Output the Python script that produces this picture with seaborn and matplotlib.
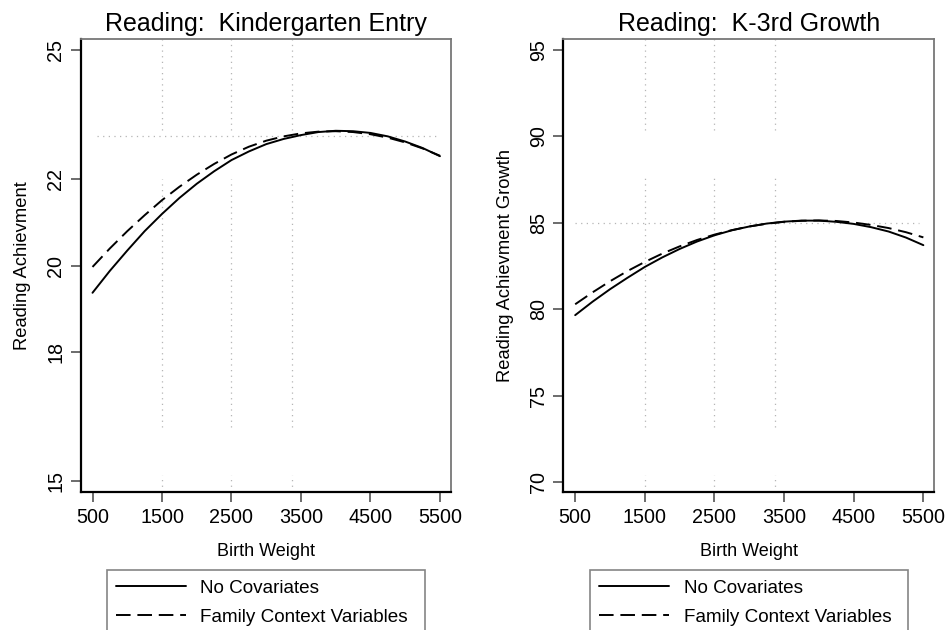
import pandas as pd
import seaborn as sns
import matplotlib.pyplot as plt
from matplotlib.lines import Line2D

# birth weight grid and values
birth_weight = [500, 750, 1000, 1250, 1500, 1750, 2000, 2250, 2500, 2750, 3000,
                3250, 3500, 3750, 4000, 4250, 4500, 4750, 5000, 5250, 5500]

k_entry_none = [19.37, 19.88, 20.35, 20.80, 21.20, 21.57, 21.90, 22.19, 22.45, 22.65, 22.82,
                22.94, 23.03, 23.10, 23.13, 23.12, 23.08, 23.00, 22.88, 22.73, 22.54]
k_entry_family = [19.97, 20.40, 20.80, 21.17, 21.52, 21.83, 22.11, 22.36, 22.58, 22.76, 22.90,
                  23.00, 23.07, 23.11, 23.12, 23.10, 23.05, 22.97, 22.86, 22.72, 22.55]

growth_none = [79.66, 80.44, 81.16, 81.82, 82.45, 83.00, 83.49, 83.92, 84.28, 84.57, 84.79,
               84.96, 85.07, 85.13, 85.13, 85.06, 84.94, 84.75, 84.50, 84.15, 83.71]
growth_family = [80.29, 80.98, 81.62, 82.21, 82.74, 83.22, 83.64, 84.01, 84.32, 84.58, 84.79,
                 84.95, 85.06, 85.12, 85.14, 85.11, 85.02, 84.88, 84.70, 84.46, 84.16]

models = ['No Covariates', 'Family Context Variables']
titles = ['Reading:  Kindergarten Entry', 'Reading:  K-3rd Growth']
ylabels = ['Reading Achievment', 'Reading Achievment Growth']
xticks = [500, 1500, 2500, 3500, 4500, 5500]
yticks = [[15, 18, 20, 22, 25], [70, 75, 80, 85, 90, 95]]
ylims = [(14.74, 25.26), (69.41, 95.64)]

# dotted reference lines
ref_x = [1500, 2500, 3365]
ref_y = [23.0, 85.0]
ref_y_span = [(567, 5452), (500, 5432)]
ref_x_segments = [[(23.14, 25.26), (16.26, 22.02), (14.74, 15.14)],
                  [(90.37, 95.64), (73.19, 87.57), (69.41, 70.39)]]

panels = [(k_entry_none, k_entry_family), (growth_none, growth_family)]

sns.set_style('white')
plt.rcParams['font.family'] = ['Liberation Sans', 'DejaVu Sans']
plt.rcParams['text.color'] = 'black'
plt.rcParams['axes.labelcolor'] = 'black'

fig = plt.figure(figsize=(9.46, 6.3), dpi=100)
ax_pos = [[0.0853, 0.2186, 0.3914, 0.7195], [0.5955, 0.2186, 0.3922, 0.7195]]
legend_box = [(107 / 946, 318 / 946), (590 / 946, 318 / 946)]

dashes = {models[0]: '', models[1]: (7.5, 3.5)}

for i, (none_vals, fam_vals) in enumerate(panels):
    ax = fig.add_axes(ax_pos[i])
    df = pd.DataFrame({
        'bw': birth_weight * 2,
        'score': none_vals + fam_vals,
        'model': [models[0]] * len(none_vals) + [models[1]] * len(fam_vals),
    })

    dot = dict(color='#b5b5b5', lw=0.9, linestyle=(0, (1, 3.5)), zorder=1)
    for x in ref_x:
        for lo, hi in ref_x_segments[i]:
            ax.vlines(x, lo, hi, **dot)
    ax.hlines(ref_y[i], *ref_y_span[i], **dot)

    sns.lineplot(data=df, x='bw', y='score', style='model', dashes=dashes,
                 color='black', lw=1.4, legend=False, ax=ax, zorder=3)

    ax.set_xlim(330, 5658)
    ax.set_ylim(*ylims[i])
    ax.set_xticks(xticks)
    ax.set_yticks(yticks[i])
    ax.set_title(titles[i], fontsize=18, pad=6)
    ax.set_xlabel('Birth Weight', fontsize=13, labelpad=12)
    ax.set_ylabel(ylabels[i], fontsize=13.2, labelpad=11)
    ax.tick_params(axis='both', labelsize=14.2, length=7, width=1.1,
                   color='#444444', labelcolor='black', direction='out', pad=4,
                   bottom=True, left=True)
    for lab in ax.get_yticklabels():
        lab.set_rotation(90)
        lab.set_va('center')

    for side in ['left', 'bottom']:
        ax.spines[side].set_color('black')
        ax.spines[side].set_linewidth(1.6)
    for side in ['top', 'right']:
        ax.spines[side].set_color('#777777')
        ax.spines[side].set_linewidth(1.3)

    handles = [Line2D([], [], color='black', lw=1.4),
               Line2D([], [], color='black', lw=1.4, dashes=dashes[models[1]])]
    x0, w = legend_box[i]
    top = 1 - 570 / 630
    leg = fig.legend(handles, models, loc='upper left',
                     bbox_to_anchor=(x0, top - 0.5, w, 0.5), mode='expand',
                     borderaxespad=0, fontsize=13.6, handlelength=3.7,
                     handletextpad=0.75, labelspacing=0.62, borderpad=0.5,
                     fancybox=False, frameon=True)
    leg.get_frame().set_edgecolor('#666666')
    leg.get_frame().set_linewidth(1.2)

plt.savefig('out.png', dpi=100)
